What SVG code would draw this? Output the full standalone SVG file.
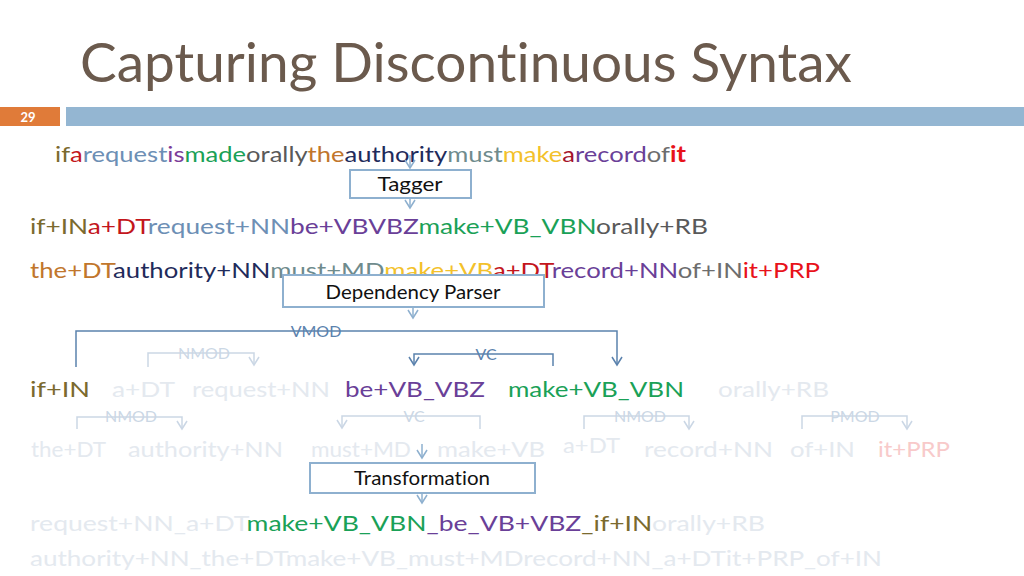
<svg xmlns="http://www.w3.org/2000/svg" width="1024" height="576" viewBox="0 0 1024 576">
<defs>
<style>
text{font-family:Lato,"Liberation Sans",sans-serif;font-variant-ligatures:none}
.ln{font-size:22px}
.box{fill:#fff;stroke:#8eb0cf;stroke-width:2}
.bt{font-size:19px;fill:#111;text-anchor:middle}
.arc{fill:none;stroke:#5b82ad;stroke-width:1.5}
.farc{fill:none;stroke:#cbd7e5;stroke-width:1.5}
.lab{font-size:16px;fill:#5b82ad;text-anchor:middle}
.flab{font-size:16px;fill:#cbd7e5;text-anchor:middle}
.fd{fill:#e4e9ef}
.ol{fill:#7b6a2e}.rd{fill:#c3161c}.sb{fill:#6d8fb5}.pu{fill:#6a3f98}.gr{fill:#1aa157}.gy{fill:#595959}
.or{fill:#c1762c}.nv{fill:#1f2b5b}.tl{fill:#6f8b8d}.ye{fill:#f3c12b}.gy2{fill:#6d6d6d}.br{fill:#e8121a}
</style>
<marker id="ah" markerUnits="userSpaceOnUse" markerWidth="12" markerHeight="12" viewBox="-10 -6 12 12" refX="0" refY="0" orient="auto">
<path d="M-8,-5 L0,0 L-8,5" fill="none" stroke="#5b82ad" stroke-width="1.5"/>
</marker>
<marker id="ahb" markerUnits="userSpaceOnUse" markerWidth="12" markerHeight="12" viewBox="-10 -6 12 12" refX="0" refY="0" orient="auto">
<path d="M-8,-5 L0,0 L-8,5" fill="none" stroke="#8eb0cf" stroke-width="1.5"/>
</marker>
<marker id="ahf" markerUnits="userSpaceOnUse" markerWidth="12" markerHeight="12" viewBox="-10 -6 12 12" refX="0" refY="0" orient="auto">
<path d="M-8,-5 L0,0 L-8,5" fill="none" stroke="#cbd7e5" stroke-width="1.5"/>
</marker>
</defs>
<rect width="1024" height="576" fill="#fff"/>

<text x="80" y="82" font-size="54" fill="#6b5a4d" textLength="772" lengthAdjust="spacingAndGlyphs">Capturing Discontinuous Syntax</text>
<rect x="0" y="107" width="60" height="19" fill="#e07b39"/>
<text x="28" y="122" font-size="13" font-weight="bold" fill="#fff" text-anchor="middle">29</text>
<rect x="66" y="107" width="958" height="19" fill="#94b6d2"/>

<!-- line 1 -->
<text class="ln" x="55" y="162" textLength="631" lengthAdjust="spacingAndGlyphs"><tspan class="ol">if</tspan><tspan class="rd">a</tspan><tspan class="sb">request</tspan><tspan fill="#7d3c99">is</tspan><tspan class="gr">made</tspan><tspan class="gy">orally</tspan><tspan class="or">the</tspan><tspan class="nv">authority</tspan><tspan class="tl">must</tspan><tspan class="ye">make</tspan><tspan fill="#a5122b">a</tspan><tspan class="pu">record</tspan><tspan class="gy2">of</tspan><tspan class="br" font-weight="bold">it</tspan></text>

<!-- line 2 -->
<text class="ln" x="30" y="234" textLength="678" lengthAdjust="spacingAndGlyphs"><tspan class="ol">if+IN</tspan><tspan class="rd">a+DT</tspan><tspan class="sb">request+NN</tspan><tspan class="pu">be+VBVBZ</tspan><tspan class="gr">make+VB_VBN</tspan><tspan class="gy">orally+RB</tspan></text>

<!-- line 3 -->
<text class="ln" x="30" y="278" textLength="790" lengthAdjust="spacingAndGlyphs"><tspan class="or">the+DT</tspan><tspan class="nv">authority+NN</tspan><tspan class="tl">must+MD</tspan><tspan class="ye">make+VB</tspan><tspan class="rd">a+DT</tspan><tspan class="pu">record+NN</tspan><tspan class="gy2">of+IN</tspan><tspan class="br">it+PRP</tspan></text>

<!-- line 4 -->
<text class="ln ol" x="30" y="397" textLength="60" lengthAdjust="spacingAndGlyphs">if+IN</text>
<text class="ln fd" x="112" y="397" textLength="63" lengthAdjust="spacingAndGlyphs">a+DT</text>
<text class="ln fd" x="192" y="397" textLength="138" lengthAdjust="spacingAndGlyphs">request+NN</text>
<text class="ln pu" x="345" y="397" textLength="140" lengthAdjust="spacingAndGlyphs">be+VB_VBZ</text>
<text class="ln gr" x="508" y="397" textLength="176" lengthAdjust="spacingAndGlyphs">make+VB_VBN</text>
<text class="ln fd" x="718" y="397" textLength="111" lengthAdjust="spacingAndGlyphs">orally+RB</text>

<!-- line 5 -->
<text class="ln fd" x="31" y="457" textLength="75" lengthAdjust="spacingAndGlyphs">the+DT</text>
<text class="ln fd" x="128" y="457" textLength="155" lengthAdjust="spacingAndGlyphs">authority+NN</text>
<text class="ln fd" x="311" y="457" textLength="100" lengthAdjust="spacingAndGlyphs">must+MD</text>
<text class="ln fd" x="437" y="457" textLength="108" lengthAdjust="spacingAndGlyphs">make+VB</text>
<text class="ln fd" x="563" y="453" textLength="57" lengthAdjust="spacingAndGlyphs">a+DT</text>
<text class="ln fd" x="644" y="457" textLength="129" lengthAdjust="spacingAndGlyphs">record+NN</text>
<text class="ln fd" x="790" y="457" textLength="65" lengthAdjust="spacingAndGlyphs">of+IN</text>
<text class="ln" fill="#f8caca" x="878" y="457" textLength="72" lengthAdjust="spacingAndGlyphs">it+PRP</text>

<!-- line 6 -->
<text class="ln" x="30" y="531" textLength="735" lengthAdjust="spacingAndGlyphs"><tspan class="fd">request+NN_a+DT</tspan><tspan class="gr">make+VB_VBN</tspan><tspan class="pu">_be_VB+VBZ</tspan><tspan class="ol">_if+IN</tspan><tspan class="fd">orally+RB</tspan></text>

<!-- line 7 -->
<text class="ln fd" x="30" y="566" textLength="852" lengthAdjust="spacingAndGlyphs">authority+NN_the+DTmake+VB_must+MDrecord+NN_a+DTit+PRP_of+IN</text>

<g id="connectors">
<line x1="410" y1="155" x2="410" y2="168" stroke="#8eb0cf" stroke-width="1.5" marker-end="url(#ahb)"/>
<line x1="410" y1="198" x2="410" y2="208" stroke="#8eb0cf" stroke-width="1.5" marker-end="url(#ahb)"/>
<line x1="413" y1="307" x2="413" y2="318" stroke="#8eb0cf" stroke-width="1.5" marker-end="url(#ahb)"/>
<line x1="422" y1="444" x2="422" y2="458" stroke="#8eb0cf" stroke-width="1.5" marker-end="url(#ahb)"/>
<line x1="422" y1="493" x2="422" y2="503" stroke="#8eb0cf" stroke-width="1.5" marker-end="url(#ahb)"/>

<path class="arc" d="M76,367 V331 H617 V365" marker-end="url(#ah)"/>
<path class="arc" d="M553,366 V354 H414 V365" marker-end="url(#ah)"/>
<path class="farc" d="M148,367 V353 H254 V365" marker-end="url(#ahf)"/>

<path class="farc" d="M77,429 V417 H182 V429" marker-end="url(#ahf)"/>
<path class="farc" d="M480,429 V416 H342 V428" marker-end="url(#ahf)"/>
<path class="farc" d="M584,429 V416 H689 V429" marker-end="url(#ahf)"/>
<path class="farc" d="M802,429 V416 H907 V429" marker-end="url(#ahf)"/>
</g>

<g id="labels">
<text class="lab" x="316" y="337">VMOD</text>
<text class="lab" x="486" y="360">VC</text>
<text class="flab" x="204" y="359">NMOD</text>
<text class="flab" x="131" y="422">NMOD</text>
<text class="flab" x="414" y="422">VC</text>
<text class="flab" x="640" y="422">NMOD</text>
<text class="flab" x="855" y="422">PMOD</text>
</g>

<g id="tagger">
<rect class="box" x="350" y="170" width="121" height="28"/>
<text class="bt" x="410" y="191" textLength="65" lengthAdjust="spacingAndGlyphs">Tagger</text>
</g>
<g id="dependency-parser">
<rect class="box" x="283" y="275" width="261" height="32"/>
<text class="bt" x="413" y="299" textLength="175" lengthAdjust="spacingAndGlyphs">Dependency Parser</text>
</g>
<g id="transformation">
<rect class="box" x="310" y="463" width="225" height="30"/>
<text class="bt" x="422" y="485" textLength="136" lengthAdjust="spacingAndGlyphs">Transformation</text>
</g>
</svg>
